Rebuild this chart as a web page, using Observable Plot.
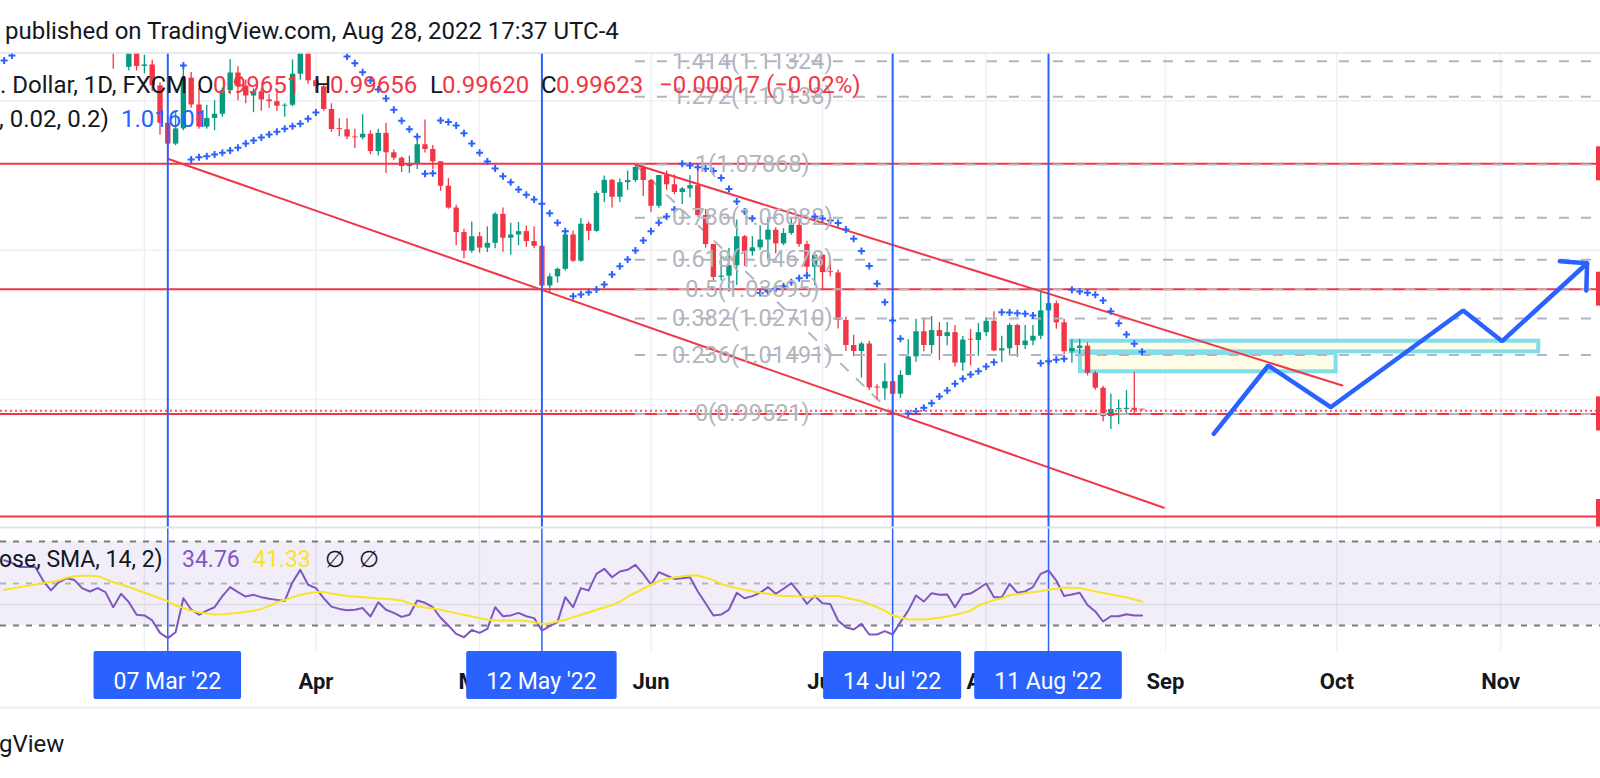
<!DOCTYPE html>
<html>
<head>
<meta charset="utf-8">
<script src="https://cdn.jsdelivr.net/npm/d3@7"></script>
<script src="https://cdn.jsdelivr.net/npm/@observablehq/plot@0.6"></script>
<style>
  html, body { margin: 0; padding: 0; background: #ffffff; }
  #wrap { position: relative; width: 1600px; height: 778px; overflow: hidden; background: #ffffff; font-family: Roboto, sans-serif; }
</style>
</head>
<body>
<div id="wrap"></div>
<script>
// ---------------- DATA ----------------
const dates = [
  "Feb 04","Feb 07","Feb 08","Feb 09","Feb 10","Feb 11","Feb 14","Feb 15","Feb 16","Feb 17","Feb 18","Feb 21","Feb 22","Feb 23","Feb 24","Feb 25","Feb 28",
  "Mar 01","Mar 02","Mar 03","Mar 04","Mar 07","Mar 08","Mar 09","Mar 10","Mar 11","Mar 14","Mar 15","Mar 16","Mar 17","Mar 18","Mar 21","Mar 22","Mar 23","Mar 24","Mar 25","Mar 28","Mar 29","Mar 30","Mar 31",
  "Apr 01","Apr 04","Apr 05","Apr 06","Apr 07","Apr 08","Apr 11","Apr 12","Apr 13","Apr 14","Apr 15","Apr 18","Apr 19","Apr 20","Apr 21","Apr 22","Apr 25","Apr 26","Apr 27","Apr 28","Apr 29",
  "May 02","May 03","May 04","May 05","May 06","May 09","May 10","May 11","May 12","May 13","May 16","May 17","May 18","May 19","May 20","May 23","May 24","May 25","May 26","May 27","May 30","May 31",
  "Jun 01","Jun 02","Jun 03","Jun 06","Jun 07","Jun 08","Jun 09","Jun 10","Jun 13","Jun 14","Jun 15","Jun 16","Jun 17","Jun 20","Jun 21","Jun 22","Jun 23","Jun 24","Jun 27","Jun 28","Jun 29","Jun 30",
  "Jul 01","Jul 04","Jul 05","Jul 06","Jul 07","Jul 08","Jul 11","Jul 12","Jul 13","Jul 14","Jul 15","Jul 18","Jul 19","Jul 20","Jul 21","Jul 22","Jul 25","Jul 26","Jul 27","Jul 28","Jul 29",
  "Aug 01","Aug 02","Aug 03","Aug 04","Aug 05","Aug 08","Aug 09","Aug 10","Aug 11","Aug 12","Aug 15","Aug 16","Aug 17","Aug 18","Aug 19","Aug 22","Aug 23","Aug 24","Aug 25","Aug 26","Aug 29"
];
const opens = [
  1.1440,1.1452,1.1441,1.1415,1.1422,1.1426,1.1349,1.1306,1.1357,1.1372,1.1362,1.1321,1.1309,1.1330,1.1308,1.1192,1.1112,
  1.1220,1.1115,1.1120,1.1050,1.0925,1.0855,1.0906,1.1076,1.0986,1.0912,1.0941,1.0955,1.1034,1.1093,1.1049,1.1016,1.1030,1.1003,1.0997,1.0982,1.0985,1.1089,1.1158,
  1.1067,1.1047,1.0971,1.0904,1.0903,1.0879,1.0876,1.0888,1.0830,1.0891,1.0826,1.0808,1.0780,1.0789,1.0853,1.0837,1.0796,1.0714,1.0641,1.0559,1.0497,
  1.0545,1.0507,1.0523,1.0620,1.0540,1.0551,1.0562,1.0529,1.0513,1.0380,1.0411,1.0436,1.0551,1.0463,1.0587,1.0563,1.0690,1.0734,1.0677,1.0726,1.0733,1.0777,
  1.0733,1.0647,1.0750,1.0719,1.0693,1.0705,1.0716,1.0616,1.0519,1.0409,1.0413,1.0448,1.0545,1.0495,1.0508,1.0534,1.0567,1.0521,1.0556,1.0583,1.0519,1.0443,
  1.0483,1.0425,1.0424,1.0265,1.0181,1.0161,1.0186,1.0039,1.0036,1.0060,1.0018,1.0081,1.0143,1.0227,1.0181,1.0231,1.0211,1.0224,1.0122,1.0199,1.0198,
  1.0224,1.0262,1.0163,1.0170,1.0248,1.0181,1.0196,1.0212,1.0297,1.0321,1.0257,1.0160,1.0171,1.0179,1.0088,1.0038,0.9943,0.9967,0.9967,0.9971,0.99651
];
const highs = [
  1.1483,1.1470,1.1445,1.1449,1.1495,1.1440,1.1370,1.1368,1.1395,1.1395,1.1375,1.1395,1.1360,1.1345,1.1320,1.1275,1.1240,
  1.1234,1.1152,1.1136,1.1060,1.0935,1.0960,1.1121,1.1095,1.1040,1.0985,1.1000,1.1043,1.1137,1.1114,1.1070,1.1040,1.1040,1.1020,1.1036,1.0990,1.1137,1.1185,1.1170,
  1.1076,1.1052,1.0990,1.0940,1.0940,1.0905,1.0953,1.0900,1.0905,1.0925,1.0835,1.0812,1.0815,1.0866,1.0936,1.0850,1.0796,1.0740,1.0650,1.0570,1.0594,
  1.0560,1.0578,1.0625,1.0641,1.0590,1.0593,1.0580,1.0578,1.0530,1.0420,1.0440,1.0565,1.0564,1.0606,1.0594,1.0697,1.0748,1.0737,1.0738,1.0765,1.0787,1.0783,
  1.0737,1.0750,1.0765,1.0752,1.0710,1.0749,1.0774,1.0637,1.0520,1.0478,1.0506,1.0601,1.0549,1.0545,1.0582,1.0605,1.0575,1.0572,1.0605,1.0606,1.0530,1.0488,
  1.0486,1.0462,1.0434,1.0276,1.0215,1.0192,1.0195,1.0050,1.0121,1.0069,1.0097,1.0200,1.0269,1.0273,1.0278,1.0258,1.0258,1.0248,1.0211,1.0235,1.0255,
  1.0274,1.0294,1.0212,1.0254,1.0252,1.0248,1.0248,1.0368,1.0368,1.0330,1.0269,1.0200,1.0202,1.0190,1.0095,1.0045,1.0018,0.9999,1.0030,1.0090,0.99656
];
const lows = [
  1.1392,1.1414,1.1395,1.1395,1.1375,1.1340,1.1280,1.1290,1.1330,1.1325,1.1305,1.1285,1.1290,1.1300,1.1106,1.1170,1.1100,
  1.1100,1.1090,1.1030,1.0885,1.0806,1.0850,1.0900,1.0975,1.0905,1.0905,1.0900,1.0945,1.1020,1.1000,1.0990,1.0960,1.0965,1.0975,1.0964,1.0945,1.0980,1.1070,1.1055,
  1.1027,1.0965,1.0895,1.0880,1.0870,1.0840,1.0870,1.0820,1.0815,1.0757,1.0800,1.0760,1.0757,1.0770,1.0825,1.0770,1.0697,1.0637,1.0515,1.0471,1.0490,
  1.0490,1.0492,1.0505,1.0493,1.0483,1.0515,1.0510,1.0505,1.0350,1.0355,1.0390,1.0430,1.0460,1.0460,1.0532,1.0560,1.0660,1.0641,1.0660,1.0700,1.0727,1.0680,
  1.0627,1.0640,1.0700,1.0686,1.0653,1.0675,1.0610,1.0507,1.0398,1.0397,1.0359,1.0382,1.0446,1.0480,1.0500,1.0470,1.0488,1.0515,1.0550,1.0510,1.0425,1.0382,
  1.0366,1.0410,1.0236,1.0161,1.0143,1.0072,1.0030,0.9999,0.9998,0.9952,1.0004,1.0080,1.0125,1.0160,1.0152,1.0130,1.0180,1.0110,1.0095,1.0113,1.0145,
  1.0210,1.0160,1.0123,1.0144,1.0141,1.0168,1.0180,1.0201,1.0275,1.0235,1.0150,1.0122,1.0150,1.0079,1.0031,0.9926,0.9900,0.9916,0.9949,0.9950,0.99620
];
const closes = [
  1.1452,1.1441,1.1415,1.1422,1.1426,1.1349,1.1306,1.1357,1.1372,1.1362,1.1321,1.1309,1.1330,1.1310,1.1192,1.1268,1.1220,
  1.1115,1.1120,1.1050,1.0925,1.0855,1.0906,1.1076,1.0986,1.0912,1.0941,1.0955,1.1034,1.1093,1.1049,1.1016,1.1030,1.1003,1.0997,1.0982,1.0985,1.1089,1.1158,1.1067,
  1.1047,1.0971,1.0904,1.0903,1.0879,1.0876,1.0888,1.0830,1.0891,1.0826,1.0808,1.0780,1.0789,1.0853,1.0837,1.0796,1.0714,1.0641,1.0559,1.0497,1.0545,
  1.0507,1.0523,1.0620,1.0540,1.0551,1.0562,1.0529,1.0513,1.0380,1.0411,1.0436,1.0551,1.0463,1.0587,1.0563,1.0690,1.0734,1.0677,1.0726,1.0733,1.0777,1.0733,
  1.0647,1.0750,1.0719,1.0693,1.0705,1.0716,1.0616,1.0519,1.0409,1.0413,1.0448,1.0545,1.0495,1.0508,1.0534,1.0567,1.0521,1.0556,1.0583,1.0519,1.0443,1.0483,
  1.0425,1.0424,1.0265,1.0181,1.0161,1.0186,1.0039,1.0036,1.0060,1.0018,1.0081,1.0143,1.0227,1.0181,1.0231,1.0211,1.0224,1.0122,1.0199,1.0198,1.0224,
  1.0262,1.0163,1.0170,1.0248,1.0181,1.0196,1.0212,1.0297,1.0321,1.0257,1.0160,1.0171,1.0179,1.0088,1.0038,0.9943,0.9967,0.9967,0.9971,0.99640,0.99623
];
// Parabolic SAR (0.02, 0.02, 0.2) dots; null = outside the visible pane
const sar = [
  1.11348,1.11516,
  null,null,null,null,null,null,null,null,null,null,null,null,null,null,null,null,null,null,null,null,null,
  1.11181,
  1.08035,1.08112,1.08145,1.08202,1.08259,1.08336,1.08427,1.08571,1.08671,1.08771,1.08872,1.08962,1.09063,1.09150,1.09230,1.09397,1.09608,
  null,null,null,
  1.11482,1.11258,1.10957,1.10679,1.10378,1.10077,1.09698,1.09330,1.09049,1.08798,
  1.07560,1.07573,
  1.09340,1.09290,1.09173,1.08915,1.08571,1.08259,1.07968,1.07734,1.07476,1.07275,1.07031,1.06857,1.06696,1.06552,1.06238,1.05917,1.05635,
  1.03460,1.03517,1.03594,1.03684,1.03852,1.04186,1.04464,1.04688,1.04990,1.05324,1.05635,1.05917,1.06127,1.06362,
  1.07891,1.07834,1.07777,1.07724,1.07650,1.07416,1.07048,1.06629,1.06295,1.06061,
  1.03567,1.03627,1.03708,1.03795,1.03929,1.04063,1.04153,
  1.06127,1.06061,1.05994,1.05910,1.05692,1.05381,1.04973,1.04471,1.03875,1.03259,1.02647,1.02034,
  0.99534,0.99611,0.99725,0.99879,1.00103,1.00304,1.00528,1.00696,1.00840,1.00950,1.01107,1.01251,
  1.02925,1.02915,1.02891,1.02871,1.02814,
  1.01218,1.01285,1.01332,1.01365,
  1.03674,1.03617,1.03574,1.03507,1.03316,1.02958,1.02556,1.02178,1.01867,1.01601
];
// RSI (14, close) and its SMA(14)
const rsi = [
  61.1,59.8,57.8,57.8,57.8,51.4,46.7,50.6,52.5,51.7,47.8,46.2,47.8,45.9,38.7,45.1,41.1,35.1,34.8,32.4,26.5,
  24.0,26.8,43.0,37.6,35.1,37.1,38.7,44.0,48.3,45.9,43.8,44.6,43.5,42.7,42.2,41.7,50.6,56.5,49.4,47.8,43.0,39.0,37.9,37.3,37.5,38.3,34.3,41.1,37.5,36.0,34.1,35.1,41.9,40.8,38.7,33.7,30.0,26.0,24.4,27.9,26.5,28.4,38.7,34.4,34.8,36.0,34.4,33.5,27.6,29.7,31.6,43.5,
  38.7,47.8,46.7,54.6,57.0,53.0,55.7,56.5,58.9,54.6,49.4,55.4,53.8,52.2,52.5,53.0,46.2,40.6,34.8,35.2,37.6,45.6,43.0,44.0,45.6,48.3,45.1,47.5,50.2,45.6,40.3,44.0,40.6,40.2,
  32.4,29.2,28.1,30.8,25.7,25.7,27.3,25.7,31.6,37.1,44.3,41.4,45.4,44.6,44.8,38.7,44.6,45.2,47.5,50.0,43.5,43.5,49.8,45.6,46.2,48.3,54.6,56.2,51.4,44.0,44.8,45.6,39.8,36.7,31.9,34.4,34.4,35.4,34.8,34.76
];
const rsiMa = [
  47.0,47.6,48.3,48.9,49.5,50.2,50.8,51.4,52.7,53.5,53.7,53.7,53.5,52.1,50.6,49.5,48.3,47.0,45.6,44.3,42.9,
  41.6,39.5,38.3,37.0,36.3,35.7,35.2,35.4,35.7,36.0,36.5,37.0,37.9,39.2,41.1,42.1,43.5,44.6,45.4,45.9,45.9,45.2,44.6,44.1,43.8,43.5,43.2,42.9,42.7,42.4,41.9,40.6,39.2,38.6,38.1,37.5,36.7,35.9,35.1,34.3,33.5,32.9,32.5,32.4,32.4,32.4,32.2,31.6,30.8,31.0,31.9,32.7,
  34.0,35.1,36.2,37.5,38.6,39.7,41.3,43.7,45.6,47.5,49.4,51.1,52.1,52.9,53.5,53.8,53.8,52.7,51.6,49.8,48.7,47.8,47.0,46.2,45.6,45.1,44.4,44.1,44.0,43.8,43.5,43.7,44.0,44.0,
  44.0,43.2,42.4,41.6,40.3,38.7,37.1,34.8,33.8,33.0,32.9,32.9,33.2,33.7,34.3,35.1,36.0,37.1,39.5,40.8,42.1,43.0,44.4,44.9,45.4,45.9,46.3,47.0,47.5,48.0,48.0,47.8,47.0,46.2,45.6,44.8,44.0,43.3,42.4,41.33
];
// time axis (bar numbers of the first trading day of each month; future months projected)
const tickBars   = [18, 40, 61, 83, 105, 126, 149, 171, 192];
const tickLabels = ["Mar", "Apr", "May", "Jun", "Jul", "Aug", "Sep", "Oct", "Nov"];
// vertical marker lines with their date labels
const markBars   = [21, 69, 114, 134];
const markLabels = ["07 Mar '22", "12 May '22", "14 Jul '22", "11 Aug '22"];
// horizontal levels
const redLevels  = [1.0789, 1.03695, 0.99521, 0.96087];
const priceGrid  = [1.00, 1.05, 1.10];
const lastPrice  = 0.99623;
// Fibonacci retracement (May 30 high -> Jul 14 low)
const fibLevels  = ["0", "0.236", "0.382", "0.5", "0.618", "0.786", "1", "1.272", "1.414"];
const fibPrices  = [0.99521, 1.01491, 1.02710, 1.03695, 1.04678, 1.06082, 1.07868, 1.10138, 1.11324];
const fibAnchorBars = [81, 114];
const fibLabelBar = 96;
// channel trend lines
const lowerLineBars = [21, 148.8], lowerLinePrices = [1.0806, 0.9638];
const upperLineBars = [81, 171.7], upperLinePrices = [1.0787, 1.0047];
// zones
const zoneBar1 = [136.9, 138.1], zoneBar2 = [196.9, 170.9];
const zoneLow  = [1.01599, 1.00930], zoneHigh = [1.01954, 1.01543];
// projected path (zig-zag arrow)
const pathBars   = [155.2, 162.2, 170.2, 187.2, 192.2, 203.1];
const pathPrices = [0.98855, 1.01141, 0.99745, 1.02982, 1.01954, 1.04564];
const headBars   = [199.6, 203.1, 203.0];
const headPrices = [1.04631, 1.04564, 1.03651];

// ---------------- BUILD ----------------
const bars = dates.map((d, k) => ({k, date: d, open: opens[k], high: highs[k], low: lows[k], close: closes[k], sar: sar[k], rsi: rsi[k], ma: rsiMa[k]}));
const UP = "#089981", DN = "#f23645";
const candleColor = d => d.close >= d.open ? UP : DN;

const X0 = -0.4652, X1 = 204.82;
const xCfg = {type: "linear", domain: [X0, X1], axis: null};
const FONT = "Roboto, 'Noto Sans', sans-serif";

const fibRows = fibLevels.map((l, j) => ({label: `${l}(${fibPrices[j].toFixed(5)})`, p: fibPrices[j]}));
const channelRows = [
  ...lowerLineBars.map((k, j) => ({id: "lower", k, p: lowerLinePrices[j]})),
  ...upperLineBars.map((k, j) => ({id: "upper", k, p: upperLinePrices[j]}))
];
const zoneRows = zoneBar1.map((k, j) => ({k1: k, k2: zoneBar2[j], p1: zoneLow[j], p2: zoneHigh[j]}));
const pathRows = pathBars.map((k, j) => ({k, p: pathPrices[j]}));
const headRows = headBars.map((k, j) => ({k, p: headPrices[j]}));
const fibTrend = fibAnchorBars.map((k, j) => ({k, p: j === 0 ? fibPrices[6] : fibPrices[0]}));

const price = Plot.plot({
  width: 1600, height: 474,
  marginTop: 0, marginBottom: 0, marginLeft: 0, marginRight: 0,
  x: xCfg,
  y: {domain: [0.95719, 1.11583], axis: null},
  style: {background: "transparent", overflow: "hidden", fontFamily: FONT},
  marks: [
    Plot.ruleX(tickBars, {x: d => d, stroke: "#eef0f4", strokeWidth: 1.5}),
    Plot.ruleY(priceGrid, {y: d => d, stroke: "#eef0f4", strokeWidth: 1.5}),
    Plot.rect(zoneRows, {x1: "k1", x2: "k2", y1: "p1", y2: "p2", fill: "#fffde7", stroke: "#80deea", strokeWidth: 4}),
    Plot.line(fibTrend, {x: "k", y: "p", stroke: "#b2b5be", strokeWidth: 2, strokeDasharray: "10,12"}),
    Plot.ruleX(bars, {x: "k", y1: "low", y2: "high", stroke: candleColor, strokeWidth: 1.3, clip: true}),
    Plot.ruleX(bars, {x: "k", y1: "open", y2: d => Math.abs(d.close - d.open) < 0.0003 ? d.open + 0.0003 : d.close, stroke: candleColor, strokeWidth: 5.4, clip: true}),
    Plot.ruleY(redLevels, {y: d => d, stroke: "#f23645", strokeWidth: 2}),
    Plot.ruleY(fibRows, {y: "p", x1: () => fibAnchorBars[0], x2: () => X1, stroke: "#b2b5be", strokeWidth: 2, strokeDasharray: "10,12"}),
    Plot.line(channelRows, {x: "k", y: "p", z: "id", stroke: "#f23645", strokeWidth: 2, clip: true}),
    Plot.dot(bars.filter(d => d.sar != null), {x: "k", y: "sar", symbol: "plus", r: 2.4, stroke: "#2962ff", strokeWidth: 2, clip: true}),
    Plot.ruleX(markBars, {x: d => d, stroke: "#2962ff", strokeWidth: 2}),
    Plot.ruleY([lastPrice], {y: d => d, stroke: "#f7525f", strokeWidth: 2, strokeDasharray: "2,3"}),
    Plot.line(pathRows, {x: "k", y: "p", stroke: "#2962ff", strokeWidth: 4.5, strokeLinejoin: "miter"}),
    Plot.line(headRows, {x: "k", y: "p", stroke: "#2962ff", strokeWidth: 4.5, strokeLinejoin: "miter"}),
    Plot.text(fibRows, {x: () => fibLabelBar, y: "p", text: "label", fill: "#b2b5be", fontSize: 23.5, fontFamily: FONT, textAnchor: "middle", lineAnchor: "middle"})
  ]
});

const osc = Plot.plot({
  width: 1600, height: 179,
  marginTop: 0, marginBottom: 56, marginLeft: 0, marginRight: 0,
  x: xCfg,
  y: {domain: [17.62, 76.19], axis: null},
  style: {background: "transparent", overflow: "hidden", fontFamily: FONT},
  marks: [
    Plot.ruleX(tickBars, {x: d => d, stroke: "#eef0f4", strokeWidth: 1.5}),
    Plot.rect([{lo: 30, hi: 70}], {x1: () => X0, x2: () => X1, y1: "lo", y2: "hi", fill: "#7e57c2", fillOpacity: 0.1}),
    Plot.ruleY([40], {y: d => d, stroke: "#dcdce3", strokeWidth: 1.5}),
    Plot.ruleY([70, 30], {y: d => d, stroke: "#787b86", strokeWidth: 2, strokeDasharray: "6,7"}),
    Plot.ruleY([50], {y: d => d, stroke: "#b2b5be", strokeWidth: 2, strokeDasharray: "6,7"}),
    Plot.ruleX(markBars, {x: d => d, stroke: "#2962ff", strokeWidth: 1.5}),
    Plot.line(bars, {x: "k", y: "rsi", stroke: "#7e57c2", strokeWidth: 2}),
    Plot.line(bars, {x: "k", y: "ma", stroke: "#f7e427", strokeWidth: 2}),
    Plot.text(tickBars, {x: d => d, text: (d, j) => tickLabels[j], frameAnchor: "bottom", lineAnchor: "middle", dy: 30, fontSize: 22, fontWeight: 700, fill: "#131722", fontFamily: FONT})
  ]
});

const wrap = document.getElementById("wrap");
function place(el, top) { el.style.position = "absolute"; el.style.left = "0px"; el.style.top = top + "px"; wrap.appendChild(el); }
place(price, 53);
place(osc, 528);

// price-scale label stubs of the horizontal lines (clipped at the right edge)
const sy = price.scale("y");
const gP = d3.select(price).append("g");
redLevels.forEach(p => gP.append("rect").attr("x", 1596).attr("width", 4).attr("y", sy.apply(p) - 17).attr("height", 34).attr("fill", "#f23645"));

// date labels on the time axis
const sx = osc.scale("x");
const gO = d3.select(osc).append("g").attr("font-family", FONT);
markBars.forEach((k, j) => {
  const cx = sx.apply(k);
  const t = gO.append("text").attr("x", cx).attr("y", 161).attr("text-anchor", "middle").attr("font-size", 23).attr("fill", "#ffffff").text(markLabels[j]);
  const w = t.node().getComputedTextLength() + 40;
  gO.insert("rect", "text").attr("x", cx - w / 2).attr("y", 123).attr("width", w).attr("height", 48).attr("rx", 2).attr("fill", "#2962ff");
});

// overlay: header, legends, separators, footer
const ov = d3.select(wrap).append("svg").attr("width", 1600).attr("height", 778)
  .style("position", "absolute").style("left", "0px").style("top", "0px").style("pointer-events", "none")
  .attr("font-family", FONT);
ov.append("line").attr("x1", 0).attr("x2", 1600).attr("y1", 53).attr("y2", 53).attr("stroke", "#e0e3eb").attr("stroke-width", 1.5);
ov.append("line").attr("x1", 0).attr("x2", 1600).attr("y1", 527.5).attr("y2", 527.5).attr("stroke", "#e0e3eb").attr("stroke-width", 2);
ov.append("line").attr("x1", 0).attr("x2", 1600).attr("y1", 707.5).attr("y2", 707.5).attr("stroke", "#eceef2").attr("stroke-width", 2);

function txt(x, y, s, fill, size) {
  ov.append("text").attr("x", x).attr("y", y).attr("font-size", size || 24).attr("fill", fill || "#131722").text(s);
}
const last = bars[bars.length - 1], prev = bars[bars.length - 2];
const chg = last.close - prev.close;
const minus = s => s.replace("-", "\u2212");
txt(5, 39, "published on TradingView.com, Aug 28, 2022 17:37 UTC-4");
txt(0, 93, ". Dollar, 1D, FXCM");
txt(197, 93, "O"); txt(213, 93, last.open.toFixed(5), "#f23645");
txt(314, 93, "H"); txt(330, 93, last.high.toFixed(5), "#f23645");
txt(430, 93, "L"); txt(442, 93, last.low.toFixed(5), "#f23645");
txt(541, 93, "C"); txt(556, 93, last.close.toFixed(5), "#f23645");
txt(659, 93, minus(chg.toFixed(5)) + " (" + minus((chg / prev.close * 100).toFixed(2)) + "%)", "#f23645");
txt(-1, 127, ", 0.02, 0.2)");
txt(121, 127, last.sar.toFixed(5), "#2962ff");
txt(-1, 567, "ose, SMA, 14, 2)", "#131722", 23);
txt(182, 567, last.rsi.toFixed(2), "#7e57c2", 23);
txt(253, 567, last.ma.toFixed(2), "#f7e427", 23);
txt(325, 567, "\u2205", "#131722", 23);
txt(359, 567, "\u2205", "#131722", 23);
txt(-1, 752, "gView");
</script>
</body>
</html>
